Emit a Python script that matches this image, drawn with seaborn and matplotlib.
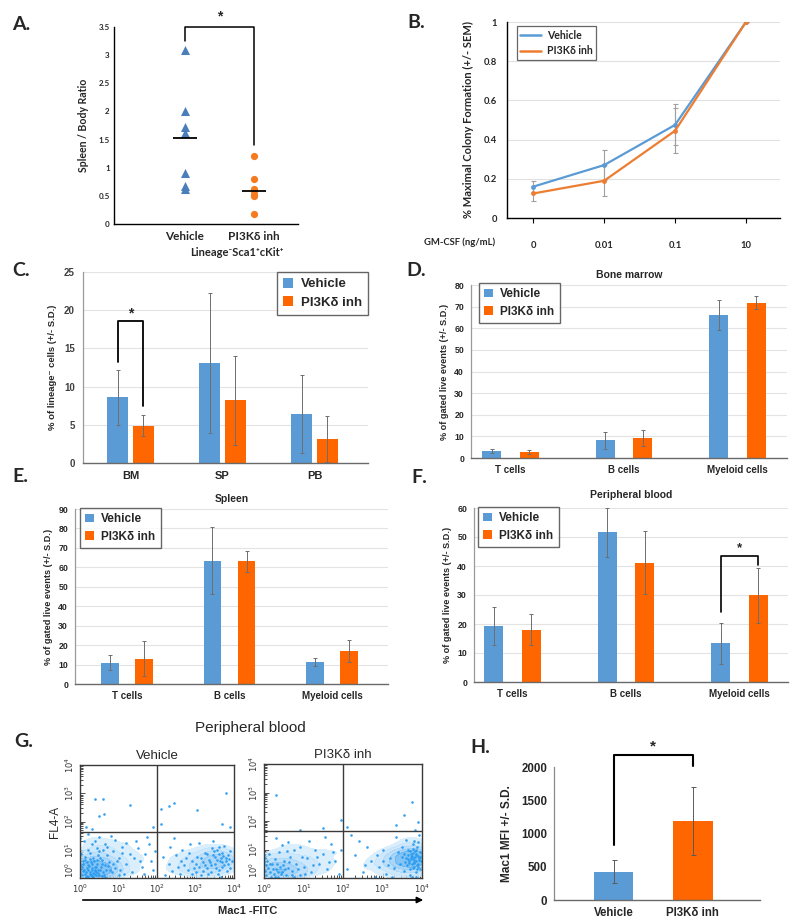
import numpy as np
import pandas as pd
import matplotlib
matplotlib.use('Agg')
import matplotlib.pyplot as plt
import seaborn as sns
from matplotlib.ticker import LogLocator, FuncFormatter, NullFormatter, FixedLocator
from matplotlib.colors import LinearSegmentedColormap

# ---------------- data ----------------
groups = ['Vehicle', 'PI3Kδ inh']

a_vehicle = [3.1, 2.0, 1.72, 1.62, 0.9, 0.67, 0.62]
a_inh = [1.2, 0.8, 0.62, 0.58, 0.52, 0.5, 0.17]
a_means = [1.53, 0.59]

b_conc = ['0', '0.01', '0.1', '10']
b_vehicle = [0.16, 0.27, 0.475, 1.0]
b_vehicle_sem = [0.027, 0.075, 0.105, 0.0]
b_inh = [0.125, 0.19, 0.445, 1.0]
b_inh_sem = [0.04, 0.08, 0.115, 0.0]

c_tissues = ['BM', 'SP', 'PB']
c_vehicle = [8.6, 13.1, 6.4]
c_vehicle_sd = [3.6, 9.2, 5.1]
c_inh = [4.9, 8.2, 3.1]
c_inh_sd = [1.4, 5.8, 3.0]

cell_types = ['T cells', 'B cells', 'Myeloid cells']
d_vehicle = [3.2, 8.1, 66.0]
d_vehicle_sd = [0.9, 3.9, 6.9]
d_inh = [2.8, 9.2, 71.8]
d_inh_sd = [0.9, 3.6, 3.0]

e_vehicle = [11.0, 63.4, 11.5]
e_vehicle_sd = [3.7, 17.3, 2.1]
e_inh = [13.1, 63.1, 16.8]
e_inh_sd = [8.8, 5.3, 5.7]

f_vehicle = [19.3, 51.6, 13.3]
f_vehicle_sd = [6.4, 8.5, 7.0]
f_inh = [18.1, 41.2, 29.9]
f_inh_sd = [5.5, 11.0, 9.4]

h_mfi = [427, 1186]
h_sd = [173, 512]

# flow cytometry dots, (log10 Mac1-FITC, log10 FL4-A), read approximately
g_vehicle_pts = [
    (0.05, 0.1), (0.1, 0.3), (0.15, 0.2), (0.2, 0.45), (0.25, 0.15), (0.3, 0.35), (0.35, 0.05),
    (0.4, 0.25), (0.45, 0.5), (0.5, 0.12), (0.55, 0.4), (0.6, 0.22), (0.08, 0.6), (0.18, 0.08),
    (0.28, 0.55), (0.38, 0.3), (0.48, 0.18), (0.58, 0.65), (0.68, 0.28), (0.12, 0.75), (0.22, 0.02),
    (0.32, 0.48), (0.42, 0.38), (0.52, 0.7), (0.62, 0.1), (0.72, 0.42), (0.82, 0.2), (0.03, 0.85),
    (0.14, 0.62), (0.26, 0.9), (0.36, 0.15), (0.46, 0.8), (0.56, 0.5), (0.66, 0.05), (0.76, 0.58),
    (0.9, 0.35), (1.0, 0.12), (0.2, 1.0), (0.34, 0.72), (0.44, 1.05), (0.05, 0.4), (0.3, 0.28),
    (0.5, 0.95), (0.7, 0.82), (0.95, 0.6), (0.22, 0.3), (0.27, 0.22), (0.33, 0.18), (0.38, 0.4),
    (0.17, 0.35), (0.42, 0.1), (0.12, 0.15), (0.24, 0.42), (0.31, 0.08), (0.47, 0.3),
    (0.07, 0.25), (0.19, 0.55), (0.29, 0.12), (0.36, 0.6), (0.41, 0.2), (0.53, 0.28), (0.64, 0.45),
    (0.15, 0.05), (0.26, 0.68), (0.09, 0.48), (0.57, 0.08), (0.78, 0.3), (0.86, 0.5), (0.43, 0.62),
    (0.1, 1.3), (0.3, 1.2), (0.5, 1.45), (0.7, 1.1), (0.9, 1.35), (1.1, 0.9), (1.2, 1.25),
    (1.4, 0.7), (1.5, 1.05), (1.6, 0.4), (1.7, 0.85), (1.8, 1.2), (1.9, 0.3), (1.2, 0.5),
    (1.0, 0.7), (1.35, 0.2), (1.55, 0.6), (0.8, 1.5), (0.2, 1.55), (1.85, 0.6), (0.6, 0.98),
    (1.05, 0.3), (1.75, 1.45), (0.0, 0.9), (0.0, 1.4), (0.0, 0.5), (0.4, 1.3), (0.65, 1.2),
    (1.15, 0.15), (1.3, 0.85), (1.45, 1.3), (1.65, 0.15), (1.95, 0.95), (0.85, 0.95), (1.1, 1.1),
    (2.2, 0.1), (2.3, 0.5), (2.4, 0.25), (2.5, 0.8), (2.6, 0.15), (2.7, 0.45), (2.8, 0.3),
    (2.9, 0.6), (3.0, 0.2), (3.05, 0.75), (3.1, 0.4), (3.15, 0.1), (3.2, 0.55), (3.25, 0.9),
    (3.3, 0.35), (3.35, 0.65), (3.4, 0.2), (3.45, 0.8), (3.5, 0.5), (3.55, 1.0), (3.6, 0.3),
    (3.65, 0.7), (3.7, 0.9), (3.75, 0.45), (3.8, 0.6), (3.85, 0.8), (3.9, 0.35), (3.6, 1.1),
    (3.5, 0.75), (3.7, 0.55), (3.4, 0.45), (3.3, 0.85), (3.2, 0.25), (3.0, 0.5), (2.9, 0.15),
    (2.75, 0.7), (2.65, 1.0), (2.55, 0.4), (2.85, 1.2), (3.1, 1.25), (3.45, 1.3), (3.75, 1.15),
    (3.9, 0.95), (3.82, 0.25), (3.58, 0.15), (2.35, 1.1), (2.15, 0.75), (2.45, 1.4), (3.95, 0.6),
    (3.65, 0.05), (3.55, 0.62), (3.62, 0.85), (3.78, 0.72), (3.68, 0.38), (3.48, 0.95),
    (3.38, 0.55), (3.52, 0.35), (3.72, 0.78), (3.85, 0.5), (3.25, 0.45), (3.15, 0.7), (2.95, 0.35),
    (3.42, 1.05), (3.63, 0.6), (3.88, 0.68), (3.33, 0.15), (2.62, 0.6), (2.82, 0.9),
    (0.4, 2.8), (0.6, 2.8), (0.5, 2.2), (0.62, 2.25), (1.3, 2.6), (2.1, 2.45), (2.3, 2.55),
    (2.45, 2.65), (3.8, 3.0), (3.05, 2.4), (2.1, 1.9), (0.15, 1.8), (0.3, 1.75), (1.9, 1.8),
    (3.7, 1.9), (3.9, 1.8),
]
g_inh_pts = [
    (0.05, 0.1), (0.1, 0.35), (0.15, 0.2), (0.2, 0.5), (0.25, 0.15), (0.3, 0.3), (0.35, 0.05),
    (0.4, 0.4), (0.45, 0.22), (0.5, 0.6), (0.55, 0.12), (0.6, 0.35), (0.7, 0.25), (0.8, 0.5),
    (0.9, 0.1), (0.02, 0.7), (0.05, 0.45), (0.12, 0.85), (0.28, 0.65), (0.65, 0.75), (0.38, 0.9),
    (1.0, 0.4), (0.75, 0.05), (0.18, 0.02), (0.48, 0.45), (0.85, 0.3), (0.02, 0.25), (0.58, 0.95),
    (0.33, 0.5), (0.08, 0.6), (0.0, 0.55), (0.0, 0.8), (0.22, 0.32), (0.42, 0.15), (0.14, 0.48),
    (0.52, 0.3), (0.27, 0.05), (0.36, 0.22), (0.63, 0.55), (0.72, 0.12),
    (1.1, 0.7), (1.2, 0.2), (1.3, 1.0), (1.4, 0.5), (1.5, 0.85), (1.6, 0.3), (1.7, 1.2),
    (1.8, 0.6), (1.9, 0.15), (1.15, 1.3), (0.9, 1.1), (0.6, 1.25), (0.3, 1.4), (1.55, 1.45),
    (1.75, 0.9), (1.25, 0.45), (0.95, 0.75), (1.95, 1.0), (1.05, 0.15), (1.35, 0.75),
    (1.65, 0.55), (0.75, 1.0), (0.45, 1.15),
    (2.1, 0.3), (2.3, 0.8), (2.5, 0.2), (2.7, 0.6), (2.9, 0.4), (3.0, 1.0), (3.1, 0.15),
    (3.2, 0.7), (3.3, 0.35), (3.4, 0.9), (3.45, 0.5), (3.5, 1.1), (3.55, 0.25), (3.6, 0.7),
    (3.62, 0.45), (3.65, 1.0), (3.68, 0.6), (3.7, 0.3), (3.72, 0.85), (3.75, 0.5), (3.77, 1.2),
    (3.78, 0.7), (3.8, 0.4), (3.82, 0.95), (3.84, 0.6), (3.85, 0.2), (3.86, 0.8), (3.88, 1.1),
    (3.9, 0.5), (3.92, 0.7), (3.94, 0.3), (3.95, 0.9), (3.97, 0.6), (3.7, 0.1), (3.8, 1.3),
    (3.6, 1.35), (3.9, 1.25), (3.75, 0.05), (3.85, 0.02), (3.65, 0.8), (3.73, 0.65), (3.83, 0.75),
    (3.79, 0.55), (3.87, 0.45), (3.69, 0.95), (2.6, 1.1), (2.8, 0.05), (2.4, 1.3), (3.35, 1.45),
    (2.2, 1.5), (3.0, 0.6), (3.25, 0.05), (3.5, 0.75), (3.58, 0.55), (3.93, 1.5), (3.76, 0.88),
    (3.81, 0.62), (3.89, 0.78), (3.71, 0.72), (3.86, 1.0), (3.77, 0.35), (3.91, 0.4),
    (3.74, 0.78), (3.84, 0.85), (3.8, 0.52), (3.92, 0.62), (3.67, 0.52), (3.96, 0.75),
    (3.88, 0.3), (3.78, 1.02), (3.64, 0.68), (3.54, 0.85), (2.55, 0.45), (2.85, 0.8), (3.15, 0.45),
    (0.3, 2.9), (1.5, 1.75), (1.95, 2.05), (3.75, 2.65), (3.55, 2.2), (3.9, 1.95), (2.1, 1.8),
    (3.35, 1.85), (0.9, 1.7), (3.82, 1.7),
]
g_gate_x = 100
g_gate_y = 43

# ---------------- style ----------------
sns.set_theme(style='white')
plt.rcParams['font.family'] = ['Liberation Sans', 'DejaVu Sans']
CAL = ['Lato', 'DejaVu Sans']

BLUE = '#5B9BD5'
ORANGE_B = '#ED7D31'
ORANGE = '#FF6600'
TRI_BLUE = '#4A7EBB'
DOT_ORANGE = '#F47B20'
FLOW = '#2B9CF0'

W, H = 795, 922
fig = plt.figure(figsize=(W / 100, H / 100), dpi=100)
fig.patch.set_facecolor('white')


def add_ax(l, t, r, b):
    return fig.add_axes([l / W, 1 - b / H, (r - l) / W, (b - t) / H])


def ftext(x, y, s, **kw):
    fig.text(x / W, 1 - y / H, s, **kw)


def panel_letter(x, y, s):
    ftext(x, y, s, fontsize=14, fontweight='bold', ha='left', va='center', family=CAL)


# ---------------- A ----------------
axA = add_ax(114, 27, 298, 224)
dfa_v = pd.DataFrame({'group': groups[0], 'ratio': a_vehicle})
dfa_i = pd.DataFrame({'group': groups[1], 'ratio': a_inh})
sns.stripplot(data=dfa_v, x='group', y='ratio', order=groups, jitter=False, marker='^',
              color=TRI_BLUE, size=6.5, linewidth=0, ax=axA)
sns.stripplot(data=dfa_i, x='group', y='ratio', order=groups, jitter=False, marker='o',
              color=DOT_ORANGE, size=5.2, linewidth=0, ax=axA)
for i, m in enumerate(a_means):
    axA.hlines(m, i - 0.17, i + 0.17, color='black', lw=1.3, zorder=5)
axA.set_xlim(-1.03, 1.64)
axA.set_ylim(0, 3.5)
yt = np.arange(0, 3.51, 0.5)
axA.set_yticks(yt)
axA.set_yticklabels([f'{v:g}' for v in yt], fontsize=5.8, fontweight='bold', family=CAL)
axA.set_xticks([0, 1])
axA.set_xticklabels(groups, fontsize=8.5, fontweight='bold', family=CAL)
axA.tick_params(length=0, pad=3)
axA.tick_params(axis='x', pad=5)
axA.set_xlabel('')
axA.set_ylabel('Spleen / Body Ratio', fontsize=7.6, fontweight='bold', family=CAL, labelpad=7)
for s in ['top', 'right']:
    axA.spines[s].set_visible(False)
for s in ['left', 'bottom']:
    axA.spines[s].set_color('black')
    axA.spines[s].set_linewidth(1.0)
axA.plot([0, 0, 1, 1], [max(a_vehicle) + 0.15, 3.5, 3.5, max(a_inh) + 0.2], color='black',
         lw=1.1, clip_on=False)
axA.text(0.5, 3.56, '*', ha='center', va='bottom', fontsize=10, fontweight='bold')
ftext(237, 253, 'Lineage⁻Sca1⁺cKit⁺', fontsize=8, fontweight='bold', ha='center', va='center',
      family=CAL)
panel_letter(12, 25, 'A.')

# ---------------- B ----------------
axB = add_ax(507, 22, 780, 218)
xpos = np.arange(len(b_conc))
dfb = pd.DataFrame({'pos': np.concatenate([xpos, xpos]),
                    'val': b_vehicle + b_inh,
                    'group': [groups[0]] * 4 + [groups[1]] * 4})
sns.lineplot(data=dfb, x='pos', y='val', hue='group', hue_order=groups,
             palette=[BLUE, ORANGE_B], marker='o', markersize=3.5, markeredgewidth=0,
             linewidth=1.6, ax=axB)
axB.errorbar(xpos, b_vehicle, yerr=b_vehicle_sem, fmt='none', ecolor='#A0A0A0', elinewidth=0.8,
             capsize=1.8, capthick=0.8, zorder=1)
axB.errorbar(xpos, b_inh, yerr=b_inh_sem, fmt='none', ecolor='#A0A0A0', elinewidth=0.8,
             capsize=1.8, capthick=0.8, zorder=1)
axB.set_xlim(-0.37, 3.48)
axB.set_ylim(0, 1)
axB.set_yticks(np.arange(0, 1.01, 0.2))
axB.set_yticklabels(['0', '0.2', '0.4', '0.6', '0.8', '1'], fontsize=6.8, fontweight='bold',
                    family=CAL)
axB.set_xticks(xpos)
axB.set_xticklabels(b_conc, fontsize=6.8, fontweight='bold', family=CAL)
axB.grid(axis='y', color='#E0E0E0', lw=0.8)
axB.set_axisbelow(True)
axB.tick_params(axis='y', length=0, pad=7)
axB.tick_params(axis='x', length=3.5, width=0.8, direction='out', color='black', pad=13,
                bottom=True)
axB.set_xlabel('')
axB.set_ylabel('% Maximal Colony Formation (+/- SEM)', fontsize=8, fontweight='bold', family=CAL,
               labelpad=7)
for s in ['top', 'right']:
    axB.spines[s].set_visible(False)
for s in ['left', 'bottom']:
    axB.spines[s].set_color('black')
    axB.spines[s].set_linewidth(1.0)
hb, lb = axB.get_legend_handles_labels()
legB = axB.legend(hb, lb, loc='upper left', bbox_to_anchor=(0.035, 0.98), borderaxespad=0,
                  frameon=True, fancybox=False, edgecolor='#404040',
                  prop=dict(weight='bold', size=7.6, family=CAL), handlelength=2.0,
                  handletextpad=0.5, borderpad=0.35, labelspacing=0.45)
legB.get_frame().set_linewidth(0.9)
for h in legB.get_lines():
    h.set_marker('')
    h.set_linewidth(1.8)
ftext(460, 242, 'GM-CSF (ng/mL)', fontsize=6.8, fontweight='bold', ha='center', va='center',
      family=CAL)
panel_letter(407, 22, 'B.')


# ---------------- grouped bar helper ----------------
def grouped_bars(ax, cats, v1, s1, v2, s2, width, gap):
    df = pd.DataFrame({'cat': cats * 2, 'group': [groups[0]] * len(cats) + [groups[1]] * len(cats),
                       'val': v1 + v2})
    sns.barplot(data=df, x='cat', y='val', hue='group', order=cats, hue_order=groups,
                palette=[BLUE, ORANGE], width=width, gap=gap, errorbar=None, saturation=1,
                linewidth=0, ax=ax)
    centers = []
    for cont, sd in zip(ax.containers, [s1, s2]):
        xs = [p.get_x() + p.get_width() / 2 for p in cont]
        hs = [p.get_height() for p in cont]
        ax.errorbar(xs, hs, yerr=sd, fmt='none', ecolor='#6E6E6E', elinewidth=0.7,
                    capsize=1.6, capthick=0.7, zorder=4)
        centers.append(xs)
    ax.grid(axis='y', color='#E3E3E3', lw=0.8)
    ax.set_axisbelow(True)
    for s in ['top', 'right']:
        ax.spines[s].set_visible(False)
    ax.spines['left'].set_color('#9A9A9A')
    ax.spines['left'].set_linewidth(0.9)
    ax.spines['bottom'].set_color('#6A6A6A')
    ax.spines['bottom'].set_linewidth(1.0)
    ax.set_xlabel('')
    ax.tick_params(length=0)
    return centers


def style_legend(ax, loc, anchor, size):
    hh, ll = ax.get_legend_handles_labels()
    leg = ax.legend(hh, ll, loc=loc, bbox_to_anchor=anchor, borderaxespad=0, frameon=True,
                    fancybox=False, edgecolor='#404040', prop=dict(weight='bold', size=size),
                    handlelength=0.75, handleheight=0.75, handletextpad=0.6, borderpad=0.45,
                    labelspacing=0.45)
    leg.get_frame().set_linewidth(1.0)
    return leg


# ---------------- C ----------------
axC = add_ax(83, 272, 368, 463)
cc = grouped_bars(axC, c_tissues, c_vehicle, c_vehicle_sd, c_inh, c_inh_sd, 0.56, 0.18)
axC.set_xlim(-0.516, 2.58)
axC.set_ylim(0, 25)
axC.set_yticks(np.arange(0, 26, 5))
axC.set_yticklabels([str(v) for v in range(0, 26, 5)], fontsize=7, fontweight='bold',
                    color='#404040')
axC.set_xticks(range(3))
axC.set_xticklabels(c_tissues, fontsize=8, fontweight='bold')
axC.tick_params(axis='y', pad=6)
axC.tick_params(axis='x', pad=6)
axC.set_ylabel('% of lineage⁻ cells (+/- S.D.)', fontsize=6.8, fontweight='bold', labelpad=5)
style_legend(axC, 'upper right', (1.0, 1.0), 9.5)
axC.plot([cc[0][0], cc[0][0], cc[1][0], cc[1][0]], [13.2, 18.6, 18.6, 7.5], color='black',
         lw=1.3, zorder=6)
axC.text((cc[0][0] + cc[1][0]) / 2, 18.7, '*', ha='center', va='bottom', fontsize=10,
         fontweight='bold')
panel_letter(12, 270, 'C.')

# ---------------- D ----------------
axD = add_ax(471, 285, 787, 458)
grouped_bars(axD, cell_types, d_vehicle, d_vehicle_sd, d_inh, d_inh_sd, 0.668, 0.5)
axD.set_xlim(-0.348, 2.436)
axD.set_ylim(0, 80)
axD.set_yticks(np.arange(0, 81, 10))
axD.set_yticklabels([str(v) for v in range(0, 81, 10)], fontsize=6.3, fontweight='bold')
axD.set_xticks(range(3))
axD.set_xticklabels(cell_types, fontsize=7, fontweight='bold')
axD.tick_params(axis='y', pad=5)
axD.tick_params(axis='x', pad=5)
axD.set_ylabel('% of gated live events (+/- S.D.)', fontsize=6.6, fontweight='bold', labelpad=4)
axD.set_title('Bone marrow', fontsize=7.5, fontweight='bold', pad=5)
style_legend(axD, 'upper left', (0.025, 1.012), 8.5)
panel_letter(406, 270, 'D.')

# ---------------- E ----------------
axE = add_ax(75, 509, 388, 684)
grouped_bars(axE, cell_types, e_vehicle, e_vehicle_sd, e_inh, e_inh_sd, 0.664, 0.49)
axE.set_xlim(-0.507, 2.546)
axE.set_ylim(0, 90)
axE.set_yticks(np.arange(0, 91, 10))
axE.set_yticklabels([str(v) for v in range(0, 91, 10)], fontsize=6.3, fontweight='bold')
axE.set_xticks(range(3))
axE.set_xticklabels(cell_types, fontsize=7, fontweight='bold')
axE.tick_params(axis='y', pad=5)
axE.tick_params(axis='x', pad=5)
axE.set_ylabel('% of gated live events (+/- S.D.)', fontsize=6.6, fontweight='bold', labelpad=4)
axE.set_title('Spleen', fontsize=7.5, fontweight='bold', pad=5)
style_legend(axE, 'upper left', (0.016, 1.006), 8.5)
panel_letter(12, 476, 'E.')

# ---------------- F ----------------
axF = add_ax(474, 508, 788, 682)
cf = grouped_bars(axF, cell_types, f_vehicle, f_vehicle_sd, f_inh, f_inh_sd, 0.668, 0.5)
axF.set_xlim(-0.339, 2.427)
axF.set_ylim(0, 60)
axF.set_yticks(np.arange(0, 61, 10))
axF.set_yticklabels([str(v) for v in range(0, 61, 10)], fontsize=6.3, fontweight='bold')
axF.set_xticks(range(3))
axF.set_xticklabels(cell_types, fontsize=7, fontweight='bold')
axF.tick_params(axis='y', pad=5)
axF.tick_params(axis='x', pad=5)
axF.set_ylabel('% of gated live events (+/- S.D.)', fontsize=6.6, fontweight='bold', labelpad=4)
axF.set_title('Peripheral blood', fontsize=7.5, fontweight='bold', pad=7)
style_legend(axF, 'upper left', (0.013, 1.006), 8.5)
axF.plot([cf[0][2], cf[0][2], cf[1][2], cf[1][2]], [24.2, 43.3, 43.3, 40.4], color='black',
         lw=1.2, zorder=6)
axF.text((cf[0][2] + cf[1][2]) / 2, 44.0, '*', ha='center', va='bottom', fontsize=9.5,
         fontweight='bold')
panel_letter(411, 477, 'F.')

# ---------------- G ----------------
haze = LinearSegmentedColormap.from_list('haze', ['#D6ECFC', '#8CC8F6', '#3A9FEE'])


def flow_panel(ax, pts, title):
    xs = [10 ** p[0] for p in pts]
    ys = [10 ** p[1] for p in pts]
    sns.kdeplot(x=xs, y=ys, log_scale=True, fill=True, cmap=haze, levels=6, thresh=0.3,
                bw_adjust=0.6, alpha=0.75, ax=ax, zorder=1)
    sns.scatterplot(x=xs, y=ys, s=3.5, color=FLOW, linewidth=0, alpha=0.95, ax=ax, zorder=2)
    ax.set_xscale('log')
    ax.set_yscale('log')
    ax.set_xlim(1, 1e4)
    ax.set_ylim(1, 1e4)
    ax.axvline(g_gate_x, color='#3A3A3A', lw=1.0, zorder=3)
    ax.axhline(g_gate_y, color='#3A3A3A', lw=1.0, zorder=3)
    fmt = FuncFormatter(lambda v, p: r'$10^{%d}$' % int(round(np.log10(v))))
    for axis in (ax.xaxis, ax.yaxis):
        axis.set_major_locator(FixedLocator([1, 10, 100, 1000, 10000]))
        axis.set_major_formatter(fmt)
        axis.set_minor_locator(LogLocator(base=10, subs=np.arange(2, 10), numticks=20))
        axis.set_minor_formatter(NullFormatter())
    ax.tick_params(which='both', direction='in', color='#333333', width=0.6)
    ax.tick_params(which='major', length=3.5, labelsize=6, labelcolor='#333333')
    ax.tick_params(which='minor', length=2)
    ax.tick_params(axis='x', bottom=True, which='both', pad=3)
    ax.tick_params(axis='y', left=True, which='both', pad=3)
    ylabs = ax.get_yticklabels()
    for i, lab in enumerate(ylabs):
        lab.set_rotation(90)
        lab.set_va('bottom' if i == 0 else 'center')
    for s in ax.spines.values():
        s.set_visible(True)
        s.set_color('#3A3A3A')
        s.set_linewidth(1.0)
    ax.set_title(title, fontsize=9.5, pad=4)
    ax.set_xlabel('')
    ax.set_facecolor('white')


axG1 = add_ax(80, 765, 234, 878)
flow_panel(axG1, g_vehicle_pts, 'Vehicle')
axG1.set_ylabel('FL4-A', fontsize=8.5, labelpad=2)
axG2 = add_ax(264, 764, 422, 878)
flow_panel(axG2, g_inh_pts, 'PI3Kδ inh')
axG2.set_ylabel('')
ftext(250, 728, 'Peripheral blood', fontsize=11, ha='center', va='center')
fig.add_artist(matplotlib.patches.FancyArrowPatch(
    (80 / W, 1 - 900 / H), (426 / W, 1 - 900 / H), transform=fig.transFigure,
    arrowstyle='-|>', mutation_scale=9, color='black', lw=1.2))
ftext(248, 911, 'Mac1 -FITC', fontsize=8, fontweight='bold', ha='center', va='center')
panel_letter(14, 741, 'G.')

# ---------------- H ----------------
axH = add_ax(554, 767, 760, 900)
dfh = pd.DataFrame({'group': groups, 'mfi': h_mfi})
sns.barplot(data=dfh, x='group', y='mfi', hue='group', order=groups, hue_order=groups,
            palette=[BLUE, ORANGE], width=0.5, errorbar=None, saturation=1, linewidth=0,
            legend=False, ax=axH)
hx = []
for cont in axH.containers:
    for p in cont:
        hx.append(p.get_x() + p.get_width() / 2)
axH.errorbar(hx, h_mfi, yerr=h_sd, fmt='none', ecolor='#5A5A5A', elinewidth=0.7, capsize=1.8,
             capthick=0.7, zorder=4)
axH.set_xlim(-0.753, 1.85)
axH.set_ylim(0, 2000)
axH.set_yticks(np.arange(0, 2001, 500))
axH.set_yticklabels([str(v) for v in range(0, 2001, 500)], fontsize=8.3, fontweight='bold')
axH.set_xticks([0, 1])
axH.set_xticklabels(groups, fontsize=8.3, fontweight='bold')
axH.tick_params(length=0, pad=5)
axH.set_xlabel('')
axH.set_ylabel('Mac1 MFI +/- S.D.', fontsize=8.6, fontweight='bold', labelpad=6)
for s in ['top', 'right']:
    axH.spines[s].set_visible(False)
axH.spines['left'].set_color('#8A8A8A')
axH.spines['bottom'].set_color('#6A6A6A')
axH.spines['left'].set_linewidth(0.9)
axH.spines['bottom'].set_linewidth(1.0)
axH.plot([hx[0], hx[0], hx[1], hx[1]], [829, 2181, 2181, 2020], color='black', lw=1.5,
         clip_on=False, zorder=6)
axH.text((hx[0] + hx[1]) / 2, 2200, '*', ha='center', va='bottom', fontsize=11,
         fontweight='bold', clip_on=False)
panel_letter(470, 747, 'H.')

fig.savefig('out.png', dpi=100, facecolor='white')
